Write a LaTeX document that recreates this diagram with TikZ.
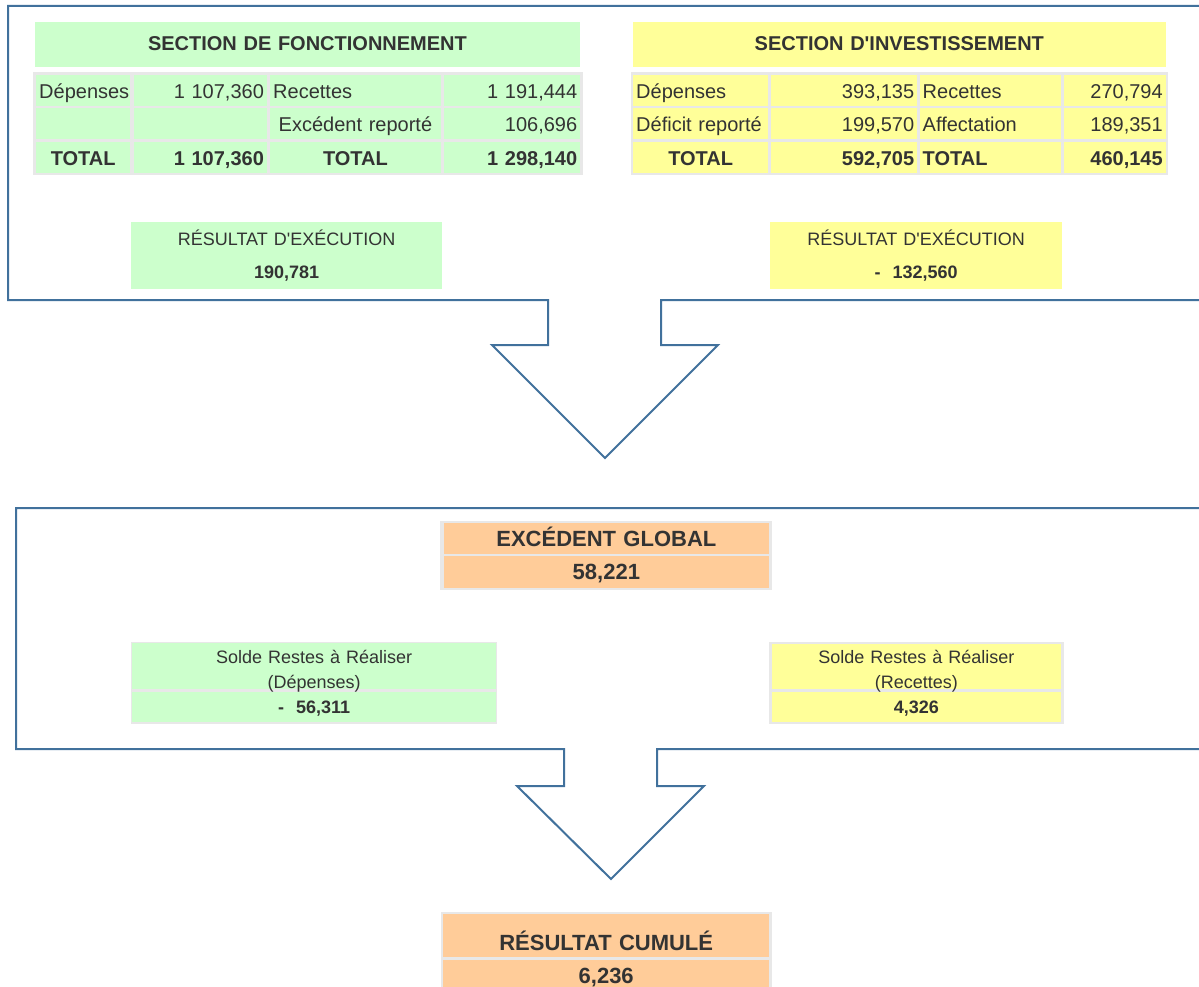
\documentclass[tikz,border=0pt]{standalone}
\usepackage{fontspec}
\usepackage{tikz}
\usepackage{xcolor}
\newfontfamily\arialfont{Liberation Sans}
\definecolor{greenfill}{HTML}{CCFFCC}
\definecolor{yellowfill}{HTML}{FFFF99}
\definecolor{orangefill}{HTML}{FFCC99}
\definecolor{gridgray}{HTML}{E8E8E8}
\definecolor{ink}{HTML}{333333}
\definecolor{frameblue}{HTML}{41719C}
\tikzset{
    table-cell/.style = {rectangle, anchor=north west, inner xsep=3pt, inner ysep=0pt, minimum height=31pt, text height=16.5pt, text depth=0.9pt, text=ink, font=\arialfont\fontsize{20}{24}\selectfont},
    green-cell/.style = {table-cell, fill=greenfill},
    yellow-cell/.style = {table-cell, fill=yellowfill},
    bold-cell/.style = {font=\arialfont\bfseries\fontsize{20}{24}\selectfont},
    section-title/.style = {table-cell, minimum height=45pt, text height=12.5pt, text depth=0.9pt, align=center, font=\arialfont\bfseries\fontsize{20}{24}\selectfont},
    result-box/.style = {rectangle, anchor=north west, inner sep=0pt, minimum height=67.3pt, text height=14pt, text depth=33.7pt, align=center, text=ink, font=\arialfont\fontsize{18}{33}\selectfont},
    solde-cell/.style = {rectangle, anchor=north west, inner sep=0pt, align=center, text=ink, font=\arialfont\fontsize{18}{24.7}\selectfont},
    orange-cell/.style = {rectangle, anchor=north west, inner sep=0pt, fill=orangefill, align=center, text=ink, minimum height=31.3pt, text height=16.5pt, text depth=0.75pt, font=\arialfont\bfseries\fontsize{22}{26}\selectfont},
    arrow-frame/.style = {draw=frameblue, line width=2pt, line join=miter},
}
\begin{document}
\begin{tikzpicture}[x=1pt, y=-1pt]
\useasboundingbox (0,0) rectangle (1199,987);
\clip (0,0) rectangle (1199,987);

% frames with the down arrows
\draw[arrow-frame] (1205,6) -- (8,6) -- (8,300) -- (548,300) -- (548,345) -- (492,345) -- (605,458) -- (718,345) -- (661,345) -- (661,300) -- (1205,300);
\draw[arrow-frame] (1205,508) -- (16,508) -- (16,749) -- (564,749) -- (564,786) -- (517,786) -- (611,879) -- (704,786) -- (657,786) -- (657,749) -- (1205,749);

% section de fonctionnement
\node[section-title, fill=greenfill, text width=538.5pt] (fonc-title) at (35,21.7) {SECTION DE FONCTIONNEMENT};
\fill[gridgray] (33.3,71.7) rectangle (582.5,175.5);
\node[green-cell, text width=88pt, align=left] (fonc-dep) at (36,75) {Dépenses};
\node[green-cell, text width=127.4pt, align=right] (fonc-dep-val) at (133.3,75) {1 107,360};
\node[green-cell, text width=164.5pt, align=left] (fonc-rec) at (270,75) {Recettes};
\node[green-cell, text width=130.5pt, align=right] (fonc-rec-val) at (443.5,75) {1 191,444};
\node[green-cell, text width=88pt] (fonc-empty-a) at (36,108.3) {};
\node[green-cell, text width=127.4pt] (fonc-empty-b) at (133.3,108.3) {};
\node[green-cell, text width=164.5pt, align=center] (fonc-exc) at (270,108.3) {Excédent reporté};
\node[green-cell, text width=130.5pt, align=right] (fonc-exc-val) at (443.5,108.3) {106,696};
\node[green-cell, bold-cell, text width=88pt, align=center] (fonc-tot-dep) at (36,141.7) {TOTAL};
\node[green-cell, bold-cell, text width=127.4pt, align=right] (fonc-tot-dep-val) at (133.3,141.7) {1 107,360};
\node[green-cell, bold-cell, text width=164.5pt, align=center] (fonc-tot-rec) at (270,141.7) {TOTAL};
\node[green-cell, bold-cell, text width=130.5pt, align=right] (fonc-tot-rec-val) at (443.5,141.7) {1 298,140};

% section d'investissement
\node[section-title, fill=yellowfill, text width=527.2pt] (inv-title) at (632.5,21.7) {SECTION D'INVESTISSEMENT};
\fill[gridgray] (630.5,71.7) rectangle (1168,175.5);
\node[yellow-cell, text width=129pt, align=left] (inv-dep) at (633,75) {Dépenses};
\node[yellow-cell, text width=140pt, align=right] (inv-dep-val) at (771,75) {393,135};
\node[yellow-cell, text width=135.5pt, align=left] (inv-rec) at (919.5,75) {Recettes};
\node[yellow-cell, text width=95.5pt, align=right] (inv-rec-val) at (1064,75) {270,794};
\node[yellow-cell, text width=129pt, align=left] (inv-def) at (633,108.3) {Déficit reporté};
\node[yellow-cell, text width=140pt, align=right] (inv-def-val) at (771,108.3) {199,570};
\node[yellow-cell, text width=135.5pt, align=left] (inv-aff) at (919.5,108.3) {Affectation};
\node[yellow-cell, text width=95.5pt, align=right] (inv-aff-val) at (1064,108.3) {189,351};
\node[yellow-cell, bold-cell, text width=129pt, align=center] (inv-tot-dep) at (633,141.7) {TOTAL};
\node[yellow-cell, bold-cell, text width=140pt, align=right] (inv-tot-dep-val) at (771,141.7) {592,705};
\node[yellow-cell, bold-cell, text width=135.5pt, align=left] (inv-tot-rec) at (919.5,141.7) {TOTAL};
\node[yellow-cell, bold-cell, text width=95.5pt, align=right] (inv-tot-rec-val) at (1064,141.7) {460,145};

% resultats d'execution
\node[result-box, fill=greenfill, text width=310.7pt] (fonc-result) at (131,221.7) {RÉSULTAT D'EXÉCUTION\\\textbf{190,781}};
\node[result-box, fill=yellowfill, text width=291.7pt] (inv-result) at (770,221.7) {RÉSULTAT D'EXÉCUTION\\\textbf{-\ \ 132,560}};

% excedent global
\fill[gridgray] (440,520.7) rectangle (771.7,590);
\node[orange-cell, text width=325.7pt, minimum height=30.6pt] (global-title) at (443.3,522.7) {EXCÉDENT GLOBAL};
\node[orange-cell, text width=325.7pt] (global-val) at (443.3,556) {58,221};

% restes a realiser
\fill[gridgray] (130.7,641.7) rectangle (497,724);
\node[solde-cell, fill=greenfill, text width=363.7pt, minimum height=46pt, text height=14pt, text depth=19.2pt] (rar-dep) at (132,643) {Solde Restes à Réaliser\\(Dépenses)};
\node[solde-cell, fill=greenfill, text width=363.7pt, minimum height=30pt, text height=13.5pt, text depth=0.7pt] (rar-dep-val) at (132,691.7) {\textbf{-\ \ 56,311}};
\fill[gridgray] (769,641.7) rectangle (1064,724);
\node[solde-cell, fill=yellowfill, text width=289pt, minimum height=45pt, text height=14pt, text depth=20.2pt] (rar-rec) at (771.7,644) {Solde Restes à Réaliser\\(Recettes)};
\node[solde-cell, fill=yellowfill, text width=289pt, minimum height=30pt, text height=13.5pt, text depth=0.7pt] (rar-rec-val) at (771.7,691.7) {\textbf{4,326}};

% resultat cumule
\fill[gridgray] (440.7,911.7) rectangle (771.7,995);
\node[orange-cell, text width=326pt, minimum height=42.7pt, text height=31pt, text depth=0.9pt] (cumul-title) at (443,914) {RÉSULTAT CUMULÉ};
\node[orange-cell, text width=326pt] (cumul-val) at (443,959.3) {6,236};
\end{tikzpicture}
\end{document}
